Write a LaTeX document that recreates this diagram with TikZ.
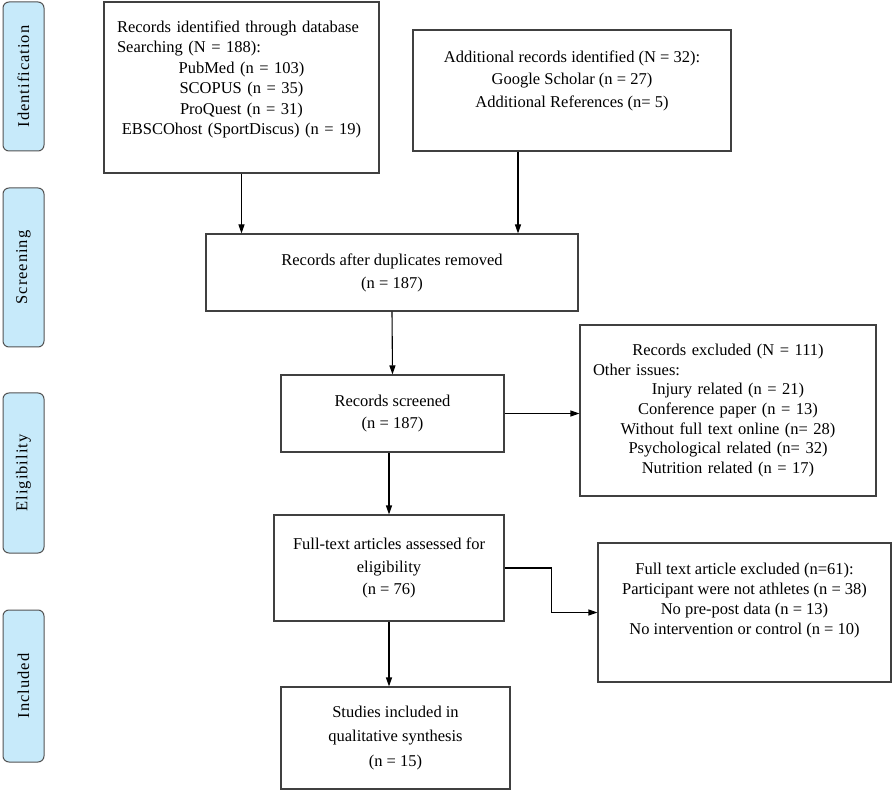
\documentclass[tikz,border=0pt]{standalone}
\usepackage{fontspec}
\setmainfont{Liberation Serif}
\newfontfamily\sidefont[LetterSpace=6]{Liberation Serif}
\usetikzlibrary{arrows.meta,positioning}
\definecolor{sidefill}{RGB}{199,234,250}
\definecolor{edgegray}{RGB}{64,64,64}

\begin{document}
\begin{tikzpicture}[x=1pt,y=-1pt]
	\useasboundingbox (0,0) rectangle (892,791);
	\tikzset{BoxStyle/.style =
		{draw = edgegray,
			line width = 1.1pt,
			shape = rectangle,
			align = center,
			inner sep = 0pt,
			font = \fontsize{16.5}{22}\selectfont}}
	\tikzset{TextStyle/.style =
		{align = center,
			inner sep = 0pt,
			font = \fontsize{16.5}{20.5}\selectfont}}
	\tikzset{PhaseStyle/.style =
		{draw = edgegray!90,
			line width = 1pt,
			fill = sidefill,
			rounded corners = 6pt,
			rotate = 90,
			minimum height = 41pt,
			inner sep = 0pt,
			font = \sidefont\fontsize{16.5}{18}\selectfont}}
	\tikzset{EdgeStyle/.style =
		{line width = 1.1pt,
			-{Triangle[length=9pt,width=6pt]}}}
	% phases
	\node[PhaseStyle, minimum width=149pt] (ident) at (23.5,76.5) {Identification};
	\node[PhaseStyle, minimum width=159pt] (screen) at (23.5,267.5) {Screening};
	\node[PhaseStyle, minimum width=160pt] (elig) at (23.5,473) {Eligibility};
	\node[PhaseStyle, minimum width=152pt] (incl) at (23.5,686) {Included};
	% boxes
	\node[BoxStyle, minimum width=275pt, minimum height=171pt] (db) at (241.5,87.5) {};
	\node[TextStyle, text width=249pt, below=19pt of db.north] (dbtext)
		{\makebox[\linewidth][l]{Records identified through database}\\
		\makebox[\linewidth][l]{Searching (N = 188):}\\
		PubMed (n = 103)\\ SCOPUS (n = 35)\\ ProQuest (n = 31)\\
		EBSCOhost (SportDiscus) (n = 19)};
	\node[BoxStyle, minimum width=318pt, minimum height=121pt] (add) at (572,90.5) {};
	\node[TextStyle, font=\fontsize{16.5}{22.5}\selectfont, below=21pt of add.north] (addtext)
		{Additional records identified (N = 32):\\
		Google Scholar (n = 27)\\ Additional References (n= 5)};
	\node[BoxStyle, minimum width=372pt, minimum height=77pt, font=\fontsize{16.5}{23}\selectfont] (dup) at (392,272.5)
		{Records after duplicates removed\\ (n = 187)};
	\node[BoxStyle, minimum width=223pt, minimum height=77pt] (scr) at (392.5,413.5)
		{Records screened\\ (n = 187)};
	\node[BoxStyle, minimum width=296pt, minimum height=171pt, text width=270pt, font=\fontsize{16.5}{19.7}\selectfont] (excl) at (728,410.5)
		{Records excluded (N = 111)\\
		\makebox[\linewidth][l]{Other issues:}\\
		Injury related (n = 21)\\ Conference paper (n = 13)\\
		Without full text online (n= 28)\\ Psychological related (n= 32)\\
		Nutrition related (n = 17)};
	\node[BoxStyle, minimum width=230pt, minimum height=106pt, font=\fontsize{16.5}{22.5}\selectfont] (full) at (389,568)
		{Full-text articles assessed for\\ eligibility\\ (n = 76)};
	\node[BoxStyle, minimum width=293pt, minimum height=139pt] (fullex) at (744.5,612.5) {};
	\node[TextStyle, font=\fontsize{16.5}{20}\selectfont, below=20pt of fullex.north] (fullextext)
		{Full text article excluded (n=61):\\
		Participant were not athletes (n = 38)\\
		No pre-post data (n = 13)\\ No intervention or control (n = 10)};
	\node[BoxStyle, minimum width=229pt, minimum height=102pt, font=\fontsize{16.5}{24.5}\selectfont] (stud) at (395.5,738)
		{Studies included in\\ qualitative synthesis\\ (n = 15)};
	% arrows
	\draw[EdgeStyle] (db.south) -- (db.south |- dup.north);
	\draw[EdgeStyle] ([xshift=-54pt]add.south) -- ([xshift=-54pt]add.south |- dup.north);
	\draw[EdgeStyle] (dup.south) -- (scr.north);
	\draw[EdgeStyle] (scr.east) -- (scr.east -| excl.west);
	\draw[EdgeStyle] (scr.south -| full.north) -- (full.north);
	\draw[EdgeStyle] (full.east) -- ++(47,0) |- (fullex.west);
	\draw[EdgeStyle] (full.south) -- (full.south |- stud.north);
\end{tikzpicture}
\end{document}
